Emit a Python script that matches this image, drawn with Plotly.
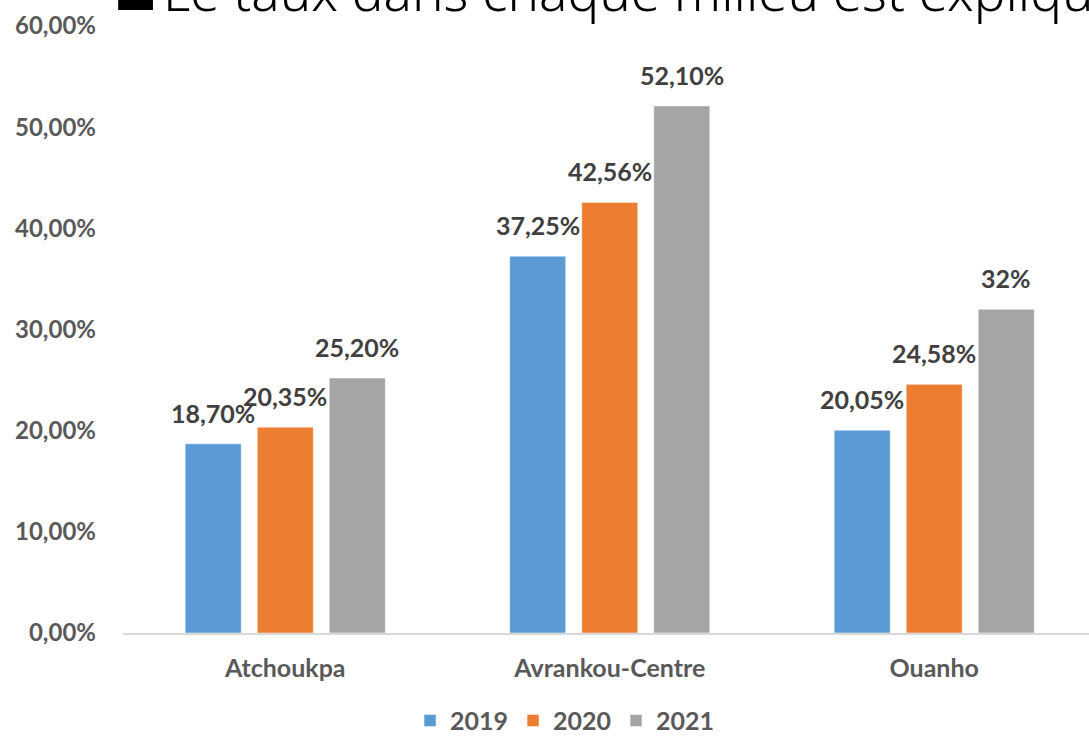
import plotly.graph_objects as go

# --- data
categories = ["Atchoukpa", "Avrankou-Centre", "Ouanho"]
years = ["2019", "2020", "2021"]
taux_2019 = [18.70, 37.25, 20.05]
taux_2020 = [20.35, 42.56, 24.58]
taux_2021 = [25.20, 52.10, 32.00]
labels_2019 = ["18,70%", "37,25%", "20,05%"]
labels_2020 = ["20,35%", "42,56%", "24,58%"]
labels_2021 = ["25,20%", "52,10%", "32%"]
y_ticks = [0, 10, 20, 30, 40, 50, 60]
y_ticktext = ["0,00%", "10,00%", "20,00%", "30,00%", "40,00%", "50,00%", "60,00%"]

colors = ["#5B9BD5", "#ED7D31", "#A5A5A5"]
series = [taux_2019, taux_2020, taux_2021]
series_labels = [labels_2019, labels_2020, labels_2021]

FONT = "Lato"
label_col = "#404040"
tick_col = "#595959"

fig = go.Figure()
for i, (yr, vals) in enumerate(zip(years, series)):
  fig.add_trace(go.Bar(x=categories, y=vals, name=yr,
                       marker=dict(color=colors[i], line=dict(color="white", width=0.5))))

#--- data labels above bars, shifted to each bar of the group
xshift = [-72, 0, 72]
for i, (vals, labs) in enumerate(zip(series, series_labels)):
  for cat, v, lab in zip(categories, vals, labs):
    fig.add_annotation(x=cat, y=v, text="<b>%s</b>" % lab, showarrow=False,
                       xshift=xshift[i], yshift=14, yanchor="bottom",
                       font=dict(family=FONT, size=25, color=label_col))

#--- clipped slide title at top (bullet box + text)
fig.add_shape(type="rect", xref="paper", yref="paper", x0=-0.005, x1=0.031, y0=1.0264, y1=1.08,
              fillcolor="black", line=dict(width=0), layer="above")
fig.add_annotation(xref="paper", yref="paper", x=0.0435, y=1, xanchor="left", yanchor="bottom",
                   xshift=-4, yshift=-3,
                   text="Le taux dans chaque milieu est expliqué par",
                   showarrow=False, font=dict(family="Noto Sans", size=53, color="black", weight=300))

fig.update_layout(
  width=1089, height=737,
  margin=dict(l=123, r=0, t=26, b=104),
  paper_bgcolor="white", plot_bgcolor="white",
  barmode="group", bargap=0.334, bargroupgap=0.222,
  showlegend=True,
  legend=dict(orientation="h", x=0.4576, xanchor="center", yref="container", y=0.022, yanchor="middle",
              font=dict(family=FONT, size=25, color=tick_col, weight="bold")),
  xaxis=dict(range=[-0.5, 2.477], showline=True, linecolor="#D9D9D9", linewidth=2,
             ticks="", ticklabelstandoff=12, automargin=False,
             tickfont=dict(family=FONT, size=25, color=tick_col, weight="bold")),
  yaxis=dict(range=[0, 60], tickvals=y_ticks, ticktext=y_ticktext,
             showgrid=False, zeroline=False, showline=False, ticks="", ticklabelstandoff=26,
             automargin=False,
             tickfont=dict(family=FONT, size=24, color=tick_col, weight="bold")),
)

# page body margin off so the figure sits at the window's top-left corner
fig.write_html("out.html", config={"displayModeBar": False},
               post_script="document.body.style.margin='0';")
